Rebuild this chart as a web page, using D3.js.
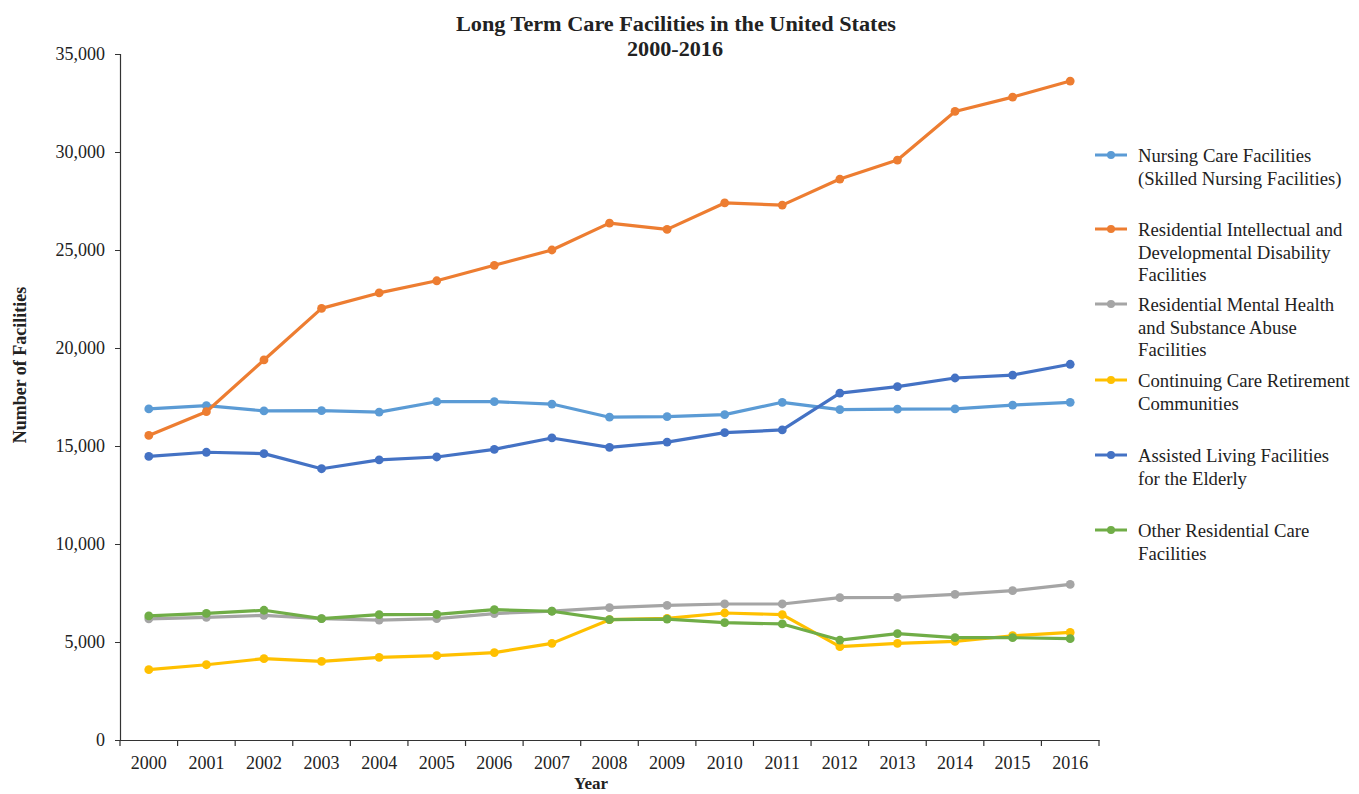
<!DOCTYPE html>
<html>
<head>
<meta charset="utf-8">
<script src="https://cdn.jsdelivr.net/npm/d3@7"></script>
<style>
  html, body { margin: 0; padding: 0; background: #fff; }
  svg { display: block; }
  text { font-family: "Liberation Serif", "Times New Roman", serif; fill: #222; }
</style>
</head>
<body>
<svg id="chart" width="1359" height="794"></svg>
<script>
const years = ["2000","2001","2002","2003","2004","2005","2006","2007","2008","2009","2010","2011","2012","2013","2014","2015","2016"];
const seriesNames = [
  "Nursing Care Facilities (Skilled Nursing Facilities)",
  "Residential Intellectual and Developmental Disability Facilities",
  "Residential Mental Health and Substance Abuse Facilities",
  "Continuing Care Retirement Communities",
  "Assisted Living Facilities for the Elderly",
  "Other Residential Care Facilities"
];
const legendLines = [
  ["Nursing Care Facilities", "(Skilled Nursing Facilities)"],
  ["Residential Intellectual and", "Developmental Disability", "Facilities"],
  ["Residential Mental Health", "and Substance Abuse", "Facilities"],
  ["Continuing Care Retirement", "Communities"],
  ["Assisted Living Facilities", "for the Elderly"],
  ["Other Residential Care", "Facilities"]
];
const nursing   = [16890,17060,16790,16800,16730,17260,17260,17140,16470,16500,16600,17230,16860,16880,16890,17090,17230];
const intellect = [15540,16750,19390,22020,22810,23430,24220,25000,26370,26050,27400,27290,28620,29590,32070,32800,33620];
const mental    = [6180,6260,6360,6190,6120,6190,6450,6580,6750,6870,6940,6940,7260,7280,7430,7620,7940];
const ccrc      = [3590,3840,4150,4010,4220,4300,4460,4930,6140,6210,6480,6400,4760,4930,5030,5320,5490];
const assisted  = [14470,14680,14610,13840,14290,14440,14830,15410,14930,15200,15680,15820,17700,18030,18470,18620,19170];
const other     = [6330,6460,6620,6190,6400,6410,6650,6570,6140,6170,5990,5920,5100,5430,5220,5220,5170];
const yTicks = [0,5000,10000,15000,20000,25000,30000,35000];
const colors = ["#5B9BD5","#ED7D31","#A5A5A5","#FFC000","#4472C4","#70AD47"];

const allSeries = [nursing, intellect, mental, ccrc, assisted, other];

const svg = d3.select("#chart");
const mLeft = 120, mRight = 1099, mTop = 54, mBottom = 740;

const x = d3.scaleBand().domain(years).range([mLeft, mRight]).padding(0);
const y = d3.scaleLinear().domain([0, 35000]).range([mBottom, mTop]);
const cx = d => x(d) + x.bandwidth() / 2;

// Title
svg.append("text").attr("x", 676).attr("y", 31).attr("text-anchor", "middle")
  .attr("font-size", 20).attr("font-weight", "bold")
  .attr("textLength", 440).attr("lengthAdjust", "spacingAndGlyphs")
  .text("Long Term Care Facilities in the United States");
svg.append("text").attr("x", 675).attr("y", 56).attr("text-anchor", "middle")
  .attr("font-size", 20).attr("font-weight", "bold")
  .attr("textLength", 96).attr("lengthAdjust", "spacingAndGlyphs")
  .text("2000-2016");

// Y axis
const yAxis = d3.axisLeft(y).tickValues(yTicks).tickSize(5).tickPadding(10)
  .tickFormat(d3.format(","));
const gy = svg.append("g").attr("transform", `translate(${mLeft},0)`).call(yAxis);
gy.select(".domain").attr("stroke", "#333").attr("stroke-width", 1.2);
gy.selectAll(".tick line").attr("stroke", "#333");
gy.selectAll("text").attr("font-size", 18).attr("font-family", "Liberation Serif, serif").attr("fill", "#222");

// X axis
const xAxis = d3.axisBottom(x).tickSize(0).tickPadding(16);
const gx = svg.append("g").attr("transform", `translate(0,${mBottom})`).call(xAxis);
gx.select(".domain").attr("stroke", "#333").attr("stroke-width", 1.2);
gx.selectAll("text").attr("font-size", 18).attr("font-family", "Liberation Serif, serif").attr("fill", "#222");
// boundary ticks
const bounds = years.map(d => x(d)).concat([x(years[years.length-1]) + x.bandwidth()]);
svg.append("g").selectAll("line").data(bounds).join("line")
  .attr("x1", d => d).attr("x2", d => d).attr("y1", mBottom).attr("y2", mBottom + 6)
  .attr("stroke", "#333").attr("stroke-width", 1.2);

// Axis titles
svg.append("text").attr("transform", `translate(26,365) rotate(-90)`)
  .attr("text-anchor", "middle").attr("font-size", 18).attr("font-weight", "bold").text("Number of Facilities");
svg.append("text").attr("x", 591).attr("y", 789).attr("text-anchor", "middle")
  .attr("font-size", 17).attr("font-weight", "bold").text("Year");

// Lines
const line = d3.line().x((d, i) => cx(years[i])).y(d => y(d));
allSeries.forEach((s, k) => {
  const g = svg.append("g");
  g.append("path").datum(s).attr("d", line).attr("fill", "none")
    .attr("stroke", colors[k]).attr("stroke-width", 3.2).attr("stroke-linejoin", "round");
  g.selectAll("circle").data(s).join("circle")
    .attr("cx", (d, i) => cx(years[i])).attr("cy", d => y(d)).attr("r", 4.4)
    .attr("fill", colors[k]);
});

// Legend
const legendY = [155, 229, 304, 380, 455, 530];
legendLines.forEach((lines, k) => {
  const g = svg.append("g").attr("transform", `translate(1095,${legendY[k]})`);
  g.append("line").attr("x1", 0).attr("x2", 32).attr("y1", 0).attr("y2", 0)
    .attr("stroke", colors[k]).attr("stroke-width", 3);
  g.append("circle").attr("cx", 16).attr("cy", 0).attr("r", 4).attr("fill", colors[k]);
  lines.forEach((t, j) => {
    g.append("text").attr("x", 43).attr("y", 7 + j * 22.5).attr("font-size", 18.7).text(t);
  });
});
</script>
</body>
</html>
